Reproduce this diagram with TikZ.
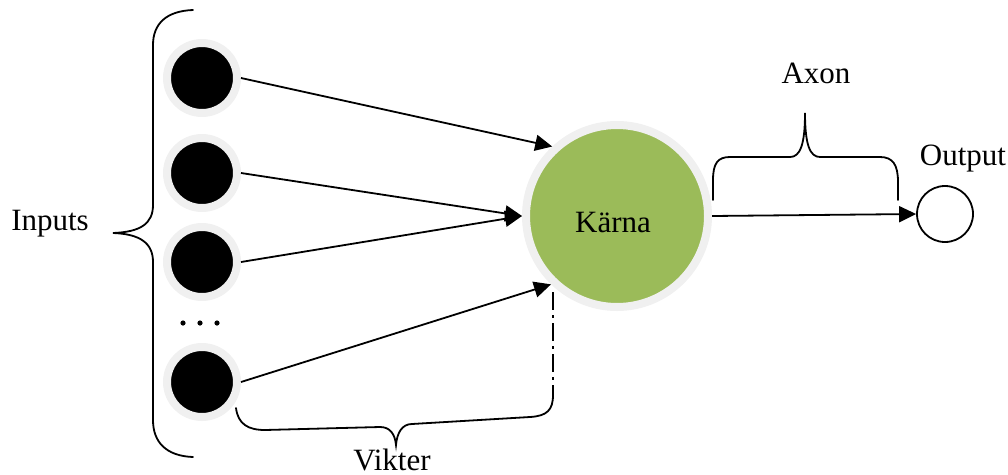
\documentclass[tikz,border=0pt]{standalone}
\usepackage{fontspec}
\setmainfont{Liberation Serif}
\usetikzlibrary{arrows.meta}
\definecolor{ringgray}{HTML}{F0F0F0}
\definecolor{kerngreen}{HTML}{9BBB59}
\begin{document}
\begin{tikzpicture}[x=1pt,y=-1pt,
  line width=1.8pt,
  inputnode/.style={circle,fill=black,draw=ringgray,line width=8pt,minimum size=70pt,inner sep=0pt},
  corenode/.style={circle,fill=kerngreen,draw=ringgray,line width=8pt,minimum size=182pt,inner sep=0pt},
  outnode/.style={circle,fill=white,draw=black,line width=1.8pt,minimum size=56pt,inner sep=0pt},
  label/.style={anchor=base,inner sep=0pt,font=\fontsize{31}{36}\selectfont},
  link/.style={-{Triangle[length=17pt,width=16pt]},line width=1.8pt},
  bracepath/.style={line width=1.8pt,line cap=round},
  dashdotline/.style={line width=1.8pt,dash pattern=on 18pt off 5pt on 3pt off 5pt}]
\useasboundingbox (0,0) rectangle (1008,474);

% neurons
\node[inputnode] (in1) at (202,78) {};
\node[inputnode] (in2) at (202,173) {};
\node[inputnode] (in3) at (202,262) {};
\node[inputnode] (in4) at (202,382) {};
\node[corenode] (core) at (617,216) {};
\node[outnode] (out) at (945,214) {};

% ellipsis between the inputs
\foreach \dx [count=\i] in {183,200,217}
  \fill (\dx,323) circle (2.6pt);

% labels
\node[label] (lblin) at (50,230) {Inputs};
\node[label] (lblcore) at (613,232) {Kärna};
\node[label] (lblaxon) at (816,83) {Axon};
\node[label] (lblout) at (963,165) {Output};
\node[label] (lblw) at (392,470) {Vikter};

% weighted connections
\draw[link] (in1.east) -- (core.133);
\draw[link] (in2.east) -- (core.west);
\draw[link] (in3.east) -- (core.west);
\draw[link] (in4.east) -- (core.226);
\draw[link] (core.east) -- (out.west);

% brace grouping the inputs
\draw[bracepath] (193,10) .. controls (166,11) and (153,24) .. (153,45)
  -- (153,205) .. controls (153,224) and (140,232) .. (113,233)
  .. controls (140,234) and (153,243) .. (153,262)
  -- (153,420) .. controls (153,442) and (166,456) .. (193,457);

% brace over the axon
\draw[bracepath] (713,200) -- (713,180) .. controls (713,163) and (718,157) .. (730,157)
  -- (790,157) .. controls (800,157) and (805,145) .. (805,113)
  .. controls (805,145) and (810,157) .. (820,157)
  -- (880,157) .. controls (893,157) and (898,165) .. (898,182) -- (898,200);

% brace under the weights
\coordinate (wr) at (553,395);
\coordinate (wtop) at (553,292);
\draw[dashdotline] (wtop) -- (wr);
\draw[bracepath] (236,408) .. controls (238,424) and (248,430) .. (265,430)
  -- (380,427) .. controls (390,427) and (395,434) .. (396,445)
  .. controls (397,433) and (402,424) .. (412,424)
  -- (530,417) .. controls (547,416) and (553,410) .. (wr);
\end{tikzpicture}
\end{document}
